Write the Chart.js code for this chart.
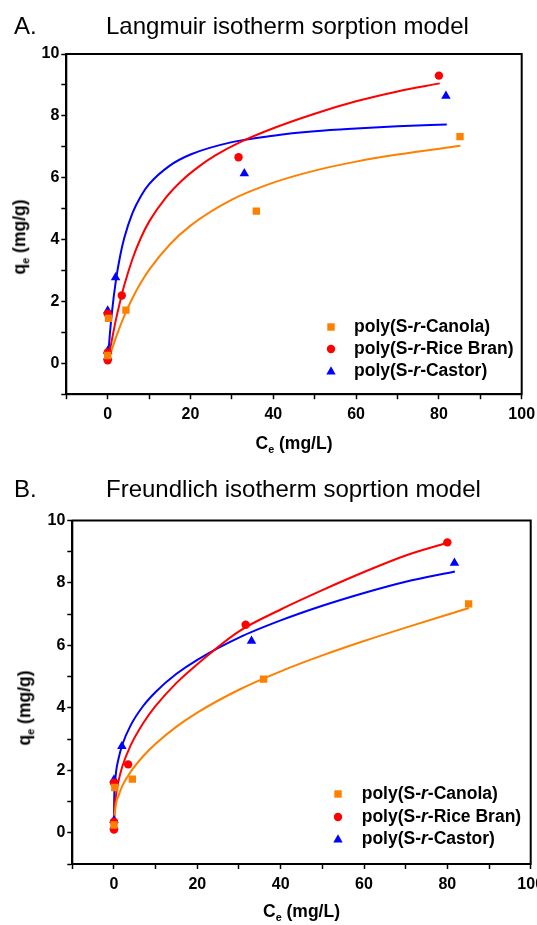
<!DOCTYPE html>
<html><head><meta charset="utf-8">
<script src="https://cdn.jsdelivr.net/npm/chart.js@4.4.1/dist/chart.umd.min.js"></script>
<style>
html,body{margin:0;padding:0;background:#fff;}
body{width:537px;height:925px;position:relative;overflow:hidden;font-family:"Liberation Sans",Arial,sans-serif;color:#000;}
.abs{position:absolute;white-space:nowrap;color:#000;}
.ptitle{font-size:24px;line-height:24px;font-weight:normal;}
.axt{font-size:17.5px;font-weight:bold;line-height:1;}
.leg{font-size:17.5px;font-weight:bold;line-height:1;}
.sub{font-size:0.62em;position:relative;top:0.38em;}
canvas{position:absolute;left:0;}
</style></head><body>
<canvas id="chartA"></canvas>
<canvas id="chartB"></canvas>
<div id="overlay"></div>
<script>
// ---------- data ----------
const seriesNames = ['poly(S-r-Canola)', 'poly(S-r-Rice Bran)', 'poly(S-r-Castor)'];
const xTickLabels = [0, 20, 40, 60, 80, 100];
const yTickLabels = [0, 2, 4, 6, 8, 10];

// measured points (Ce mg/L, qe mg/g)
const canolaCe = [0, 0.2, 4.4, 35.9, 85.1];
const canolaQe = [0.25, 1.45, 1.72, 4.92, 7.33];
const riceCe   = [0, 0, 0, 3.4, 31.6, 80.0];
const riceQe   = [0.1, 0.35, 1.6, 2.19, 6.66, 9.3];
const castorCe = [0, 0, 0, 1.9, 33.0, 81.7];
const castorQe = [0.2, 0.4, 1.7, 2.77, 6.14, 8.64];

// Langmuir fitted curves
const langCanolaCe = [0, 1, 2, 4, 6, 8, 10, 15, 20, 30, 40, 50, 60, 70, 85.2];
const langCanolaQe = [0.05, 0.44, 0.84, 1.53, 2.11, 2.60, 3.02, 3.84, 4.45, 5.29, 5.84, 6.23, 6.52, 6.75, 7.03];
const langRiceCe   = [0, 1, 2, 3, 4, 6, 8, 10, 14, 18, 22, 26, 32, 40, 50, 60, 70, 80.2];
const langRiceQe   = [0.05, 0.75, 1.42, 2.0, 2.52, 3.38, 4.05, 4.58, 5.35, 5.92, 6.36, 6.72, 7.15, 7.6, 8.07, 8.47, 8.79, 9.05];
const langCastorCe = [0, 0.5, 1, 2, 3, 4, 6, 8, 10, 15, 20, 30, 40, 50, 60, 70, 81.9];
const langCastorQe = [0.05, 0.90, 1.62, 2.70, 3.47, 4.05, 4.86, 5.40, 5.79, 6.39, 6.75, 7.15, 7.36, 7.50, 7.59, 7.66, 7.72];

// Freundlich fitted curves
const frCanolaCe = [0, 0.1, 0.3, 0.6, 1, 2, 4, 7, 10, 15, 20, 30, 40, 50, 60, 70, 85.2];
const frCanolaQe = [0.1, 0.45, 0.75, 1.0, 1.15, 1.5, 1.95, 2.45, 2.85, 3.4, 3.85, 4.58, 5.17, 5.68, 6.14, 6.57, 7.2];
const frRiceCe   = [0, 0.05, 0.2, 0.5, 1, 2, 4, 7, 10, 15, 20, 30, 40, 50, 60, 70, 79.8];
const frRiceQe   = [0.1, 0.48, 0.84, 1.21, 1.6, 2.12, 2.8, 3.51, 4.06, 4.8, 5.4, 6.45, 7.15, 7.77, 8.35, 8.88, 9.28];
const frCastorCe = [0, 0.05, 0.2, 0.5, 1, 2, 4, 7, 10, 15, 20, 30, 40, 50, 60, 70, 81.8];
const frCastorQe = [0.1, 1.0, 1.5, 1.95, 2.32, 2.82, 3.44, 4.06, 4.51, 5.09, 5.54, 6.25, 6.8, 7.27, 7.68, 8.04, 8.37];

// ---------- styling ----------
const COLORS = ['#FF8000', '#FF0000', '#0000FF'];
const FONT = '"Liberation Sans", Arial, sans-serif';

function pts(xs, ys) { return xs.map((x, i) => ({ x: x, y: ys[i] })); }

const framePlugin = {
  id: 'frame',
  afterDatasetsDraw(chart) {
    const { ctx, chartArea: a } = chart;
    ctx.save();
    ctx.strokeStyle = '#000';
    ctx.lineWidth = 2;
    ctx.strokeRect(a.left, a.top, a.right - a.left, a.bottom - a.top);
    ctx.restore();
  }
};

function build(id, g, curves) {
  const cv = document.getElementById(id);
  cv.width = 537; cv.height = g.h;
  cv.style.width = '537px'; cv.style.height = g.h + 'px'; cv.style.top = g.top + 'px';
  const styles = [
    { pointStyle: 'rect', pointRadius: 5.2 },
    { pointStyle: 'circle', pointRadius: 4.2 },
    { pointStyle: 'triangle', pointRadius: 5.5 }
  ];
  const meas = [[canolaCe, canolaQe], [riceCe, riceQe], [castorCe, castorQe]];
  const datasets = [];
  meas.forEach((m, i) => datasets.push({
    label: seriesNames[i], data: pts(m[0], m[1]), showLine: false,
    pointStyle: styles[i].pointStyle, pointRadius: styles[i].pointRadius,
    backgroundColor: COLORS[i], borderColor: COLORS[i], borderWidth: 0
  }));
  curves.forEach((c, i) => datasets.push({
    label: seriesNames[i] + ' fit', data: pts(c[0], c[1]), showLine: true,
    pointRadius: 0, borderColor: COLORS[i], borderWidth: 2,
    cubicInterpolationMode: 'monotone', fill: false
  }));
  const tickFont = { family: FONT, weight: 'bold', size: 16 };
  return new Chart(cv, {
    type: 'scatter',
    data: { datasets },
    options: {
      responsive: false, animation: false, devicePixelRatio: 1,
      layout: { padding: { left: 0, top: g.padTop, right: g.padRight, bottom: 0 } },
      plugins: { legend: { display: false }, tooltip: { enabled: false }, title: { display: false } },
      scales: {
        x: {
          type: 'linear', min: -10, max: 100,
          afterFit: (s) => { s.height = g.xh; s.paddingLeft = 0; s.paddingRight = 0; },
          ticks: { stepSize: 10, autoSkip: false, maxRotation: 0, padding: 6, color: '#000', font: tickFont,
                   callback: (v) => xTickLabels.includes(v) ? String(v) : '' },
          grid: { drawOnChartArea: false, drawTicks: true, tickLength: 5, tickColor: '#000', tickWidth: 1.5 },
          border: { display: true, color: '#000', width: 2 }
        },
        y: {
          type: 'linear', min: -1, max: 10,
          afterFit: (s) => { s.width = g.yw; s.paddingTop = 0; s.paddingBottom = 0; },
          ticks: { stepSize: 1, autoSkip: false, padding: 2, color: '#000', font: tickFont,
                   callback: (v) => yTickLabels.includes(v) ? String(v) : '' },
          grid: { drawOnChartArea: false, drawTicks: true, tickLength: 5, tickColor: '#000', tickWidth: 1.5 },
          border: { display: true, color: '#000', width: 2 }
        }
      }
    },
    plugins: [framePlugin]
  });
}

const geomA = { top: 0, h: 460, padTop: 54, padRight: 15.3, yw: 66.3, xh: 65.8 };
const geomB = { top: 460, h: 465, padTop: 60.5, padRight: 6.3, yw: 72.3, xh: 61 };

build('chartA', geomA, [[langCanolaCe, langCanolaQe], [langRiceCe, langRiceQe], [langCastorCe, langCastorQe]]);
build('chartB', geomB, [[frCanolaCe, frCanolaQe], [frRiceCe, frRiceQe], [frCastorCe, frCastorQe]]);

// ---------- text overlays ----------
const ov = document.getElementById('overlay');
function addDiv(cls, html, css) {
  const d = document.createElement('div');
  d.className = 'abs ' + cls;
  d.innerHTML = html;
  Object.assign(d.style, css);
  ov.appendChild(d);
  return d;
}
function panelText(letter, title, top) {
  addDiv('ptitle', letter, { left: '14px', top: top + 'px' });
  addDiv('ptitle', title, { left: '106px', top: top + 'px' });
}
panelText('A.', 'Langmuir isotherm sorption model', 13.7);
panelText('B.', 'Freundlich isotherm soprtion model', 476.7);

function axisTitles(xc, xy, yx, yc) {
  addDiv('axt', 'C<span class="sub">e</span> (mg/L)', { left: xc + 'px', top: xy + 'px', transform: 'translate(-50%,-50%)' });
  addDiv('axt', 'q<span class="sub">e</span> (mg/g)', { left: yx + 'px', top: yc + 'px', transform: 'translate(-50%,-50%) rotate(-90deg)' });
}
axisTitles(294, 444, 20, 237);
axisTitles(301.5, 912, 25, 707.5);

function markerSvg(i) {
  const c = COLORS[i];
  let shape;
  if (i === 0) shape = `<rect x="2.3" y="2.3" width="7.4" height="7.4" fill="${c}"/>`;
  else if (i === 1) shape = `<circle cx="6" cy="6" r="4.2" fill="${c}"/>`;
  else shape = `<polygon points="6,1.3 10.7,9.5 1.3,9.5" fill="${c}"/>`;
  return `<svg width="12" height="12" viewBox="0 0 12 12">${shape}</svg>`;
}
function legend(mx, tx, rows) {
  seriesNames.forEach((name, i) => {
    addDiv('', markerSvg(i), { left: (mx - 6) + 'px', top: (rows[i] - 6) + 'px', lineHeight: '0' });
    addDiv('leg', name.replace('-r-', '-<i>r</i>-'), { left: tx + 'px', top: rows[i] + 'px', transform: 'translateY(-50%)' });
  });
}
legend(331, 354, [327, 349, 371]);
legend(338.3, 361.7, [794, 816.5, 839]);
</script>
</body></html>
